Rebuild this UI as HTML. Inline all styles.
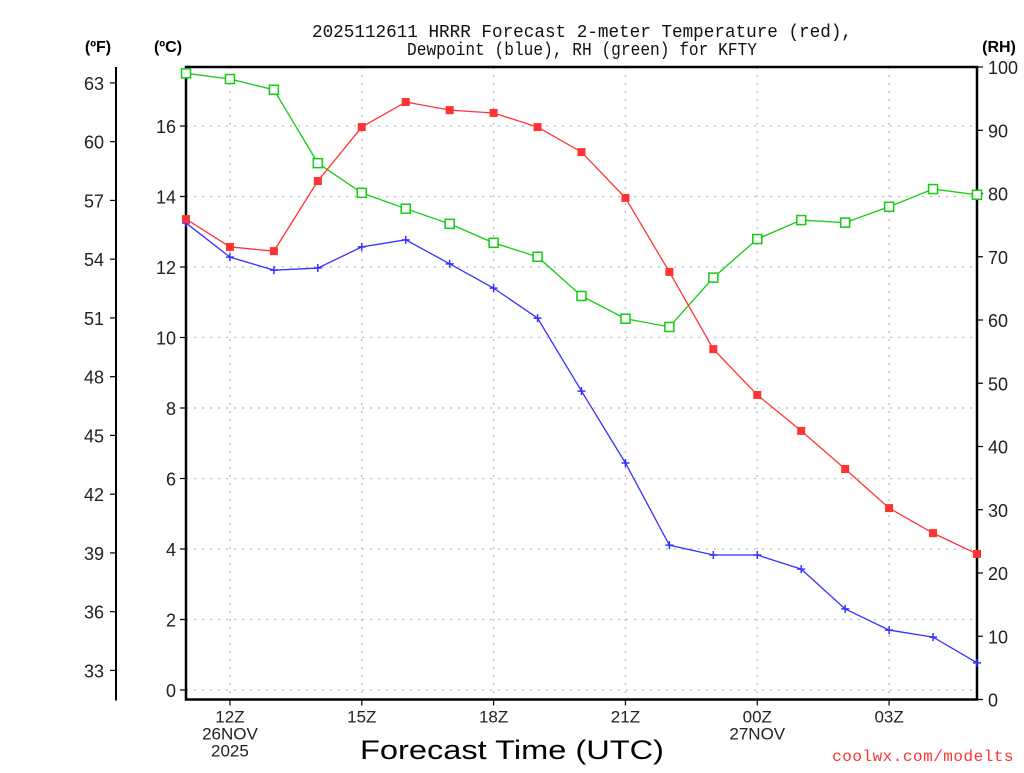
<!DOCTYPE html>
<html><head><meta charset="utf-8"><style>
body{margin:0;background:#fff;}
svg text{font-family:"Liberation Sans",sans-serif;}
</style></head><body>
<svg id="chart" width="1024" height="768" xmlns="http://www.w3.org/2000/svg">
<rect width="1024" height="768" fill="#fff"/>
<g id="grid"></g>
<g id="axes"></g>
<g id="series"></g>
<text x="312" y="37" font-size="18" textLength="540" lengthAdjust="spacingAndGlyphs" fill="#111" style="font-family:'Liberation Mono',monospace">2025112611 HRRR Forecast 2-meter Temperature (red),</text>
<text x="407" y="55" font-size="18" textLength="350" lengthAdjust="spacingAndGlyphs" fill="#111" style="font-family:'Liberation Mono',monospace">Dewpoint (blue), RH (green) for KFTY</text>
<text x="98" y="52" font-size="16" font-weight="bold" text-anchor="middle">(ºF)</text>
<text x="168" y="52" font-size="16" font-weight="bold" text-anchor="middle">(ºC)</text>
<text x="999" y="52" font-size="16" font-weight="bold" text-anchor="middle">(RH)</text>
<text x="360" y="759" font-size="27" textLength="304" lengthAdjust="spacingAndGlyphs" fill="#000">Forecast Time (UTC)</text>
<text x="1014" y="761" font-size="16" text-anchor="end" fill="#f33" style="font-family:'Liberation Mono',monospace;letter-spacing:0.5px">coolwx.com/modelts</text>
</svg>
<script>
const hours = [11,12,13,14,15,16,17,18,19,20,21,22,23,24,25,26,27,28,29];
const tempC = [13.36,12.57,12.45,14.44,15.97,16.68,16.45,16.37,15.97,15.26,13.96,11.86,9.67,8.37,7.35,6.27,5.16,4.45,3.86];
const dewC = [13.25,12.28,11.91,11.97,12.57,12.77,12.09,11.4,10.55,8.48,6.44,4.11,3.83,3.83,3.43,2.30,1.70,1.50,0.77];
const rh = [99.0,98.1,96.4,84.8,80.1,77.6,75.2,72.2,70.0,63.8,60.2,58.9,66.7,72.8,75.8,75.4,77.9,80.7,79.8];
const cTicks = [0,2,4,6,8,10,12,14,16];
const fTicks = [33,36,39,42,45,48,51,54,57,60,63];
const rhTicks = [0,10,20,30,40,50,60,70,80,90,100];
const xTickHours = [12,15,18,21,24,27];
const xTickLabels = ["12Z","15Z","18Z","21Z","00Z","03Z"];
const xTickSub = ["26NOV","","","","27NOV",""];
const xTickSub2 = ["2025","","","","",""];

const L=186,R=977,T=67,B=699.5;
const X=h=>L+(h-11)*(R-L)/18;
const YC=c=>690-35.25*c;
const YF=f=>YC((f-32)/1.8);
const YR=r=>B-(B-T)*r/100;
const NS="http://www.w3.org/2000/svg";
function mk(tag,parent,attrs){const e=document.createElementNS(NS,tag);for(const k in attrs)e.setAttribute(k,attrs[k]);parent.appendChild(e);return e;}
const grid=document.getElementById('grid'),axes=document.getElementById('axes'),ser=document.getElementById('series');

cTicks.forEach(c=>{
  const y=YC(c);
  const g=mk('line',grid,{x1:L,x2:R,y1:y,y2:y,stroke:'#bbb','stroke-dasharray':'2,6','stroke-width':1.3});
  
  
  const t=mk('line',axes,{x1:L-6,x2:L,y1:y,y2:y,stroke:'#000','stroke-width':1.2});
  
  
  const tx=mk('text',axes,{x:L-10,y:y+7,'font-size':18,'text-anchor':'end',fill:'#222'});
  tx.textContent=c;
  
  
});
xTickHours.forEach((h,i)=>{
  const x=X(h);
  const g=mk('line',grid,{x1:x,x2:x,y1:T,y2:B,stroke:'#bbb','stroke-dasharray':'2,6','stroke-width':1.3});
  
  
  const t=mk('line',axes,{x1:x,x2:x,y1:B,y2:B+6,stroke:'#000','stroke-width':1.2});
  
  
  [xTickLabels[i],xTickSub[i],xTickSub2[i]].forEach((s,j)=>{
    if(!s)return;
    const tx=mk('text',axes,{x:x,y:B+23+j*17,'font-size':17,'text-anchor':'middle',fill:'#222'});
    tx.textContent=s;
    
    
  });
});
fTicks.forEach(f=>{
  const y=YF(f);
  const t=mk('line',axes,{x1:110,x2:116,y1:y,y2:y,stroke:'#000','stroke-width':1.2});
  
  
  const tx=mk('text',axes,{x:104,y:y+7,'font-size':18,'text-anchor':'end',fill:'#222'});
  tx.textContent=f;
  
  
});
rhTicks.forEach(r=>{
  const y=YR(r);
  const t=mk('line',axes,{x1:R,x2:R+6,y1:y,y2:y,stroke:'#000','stroke-width':1.2});
  
  
  const tx=mk('text',axes,{x:R+11,y:y+7,'font-size':18,'text-anchor':'start',fill:'#222'});
  tx.textContent=r;
  
  
});
const fAxis=mk('line',axes,{x1:116,x2:116,y1:T,y2:B+1,stroke:'#000','stroke-width':2});


const box=mk('path',axes,{d:`M${L},${T}H${R}V${B}H${L}Z`,fill:'none',stroke:'#000','stroke-width':2.5});



function line(vals,yf,color,name){
  const pts=vals.map((v,i)=>X(hours[i])+','+yf(v)).join(' ');
  const p=mk('polyline',ser,{points:pts,fill:'none',stroke:color,'stroke-width':1.3});
  
  
}
line(rh,YR,'#1c1','rh');
line(dewC,YC,'#33f','dewpoint');
line(tempC,YC,'#f33','temperature');
rh.forEach((v,i)=>{
  const x=X(hours[i]),y=YR(v);
  const m=mk('rect',ser,{x:x-4.5,y:y-4.5,width:9,height:9,fill:'#fff',stroke:'#1c1','stroke-width':1.5});
  
  
});
dewC.forEach((v,i)=>{
  const x=X(hours[i]),y=YC(v);
  const m=mk('path',ser,{d:`M${x-4},${y}H${x+4}M${x},${y-4}V${y+4}`,stroke:'#33f','stroke-width':1.5});
  
  
});
tempC.forEach((v,i)=>{
  const x=X(hours[i]),y=YC(v);
  const m=mk('rect',ser,{x:x-4,y:y-4,width:8,height:8,fill:'#f33'});
  
  
});
</script>
</body></html>
